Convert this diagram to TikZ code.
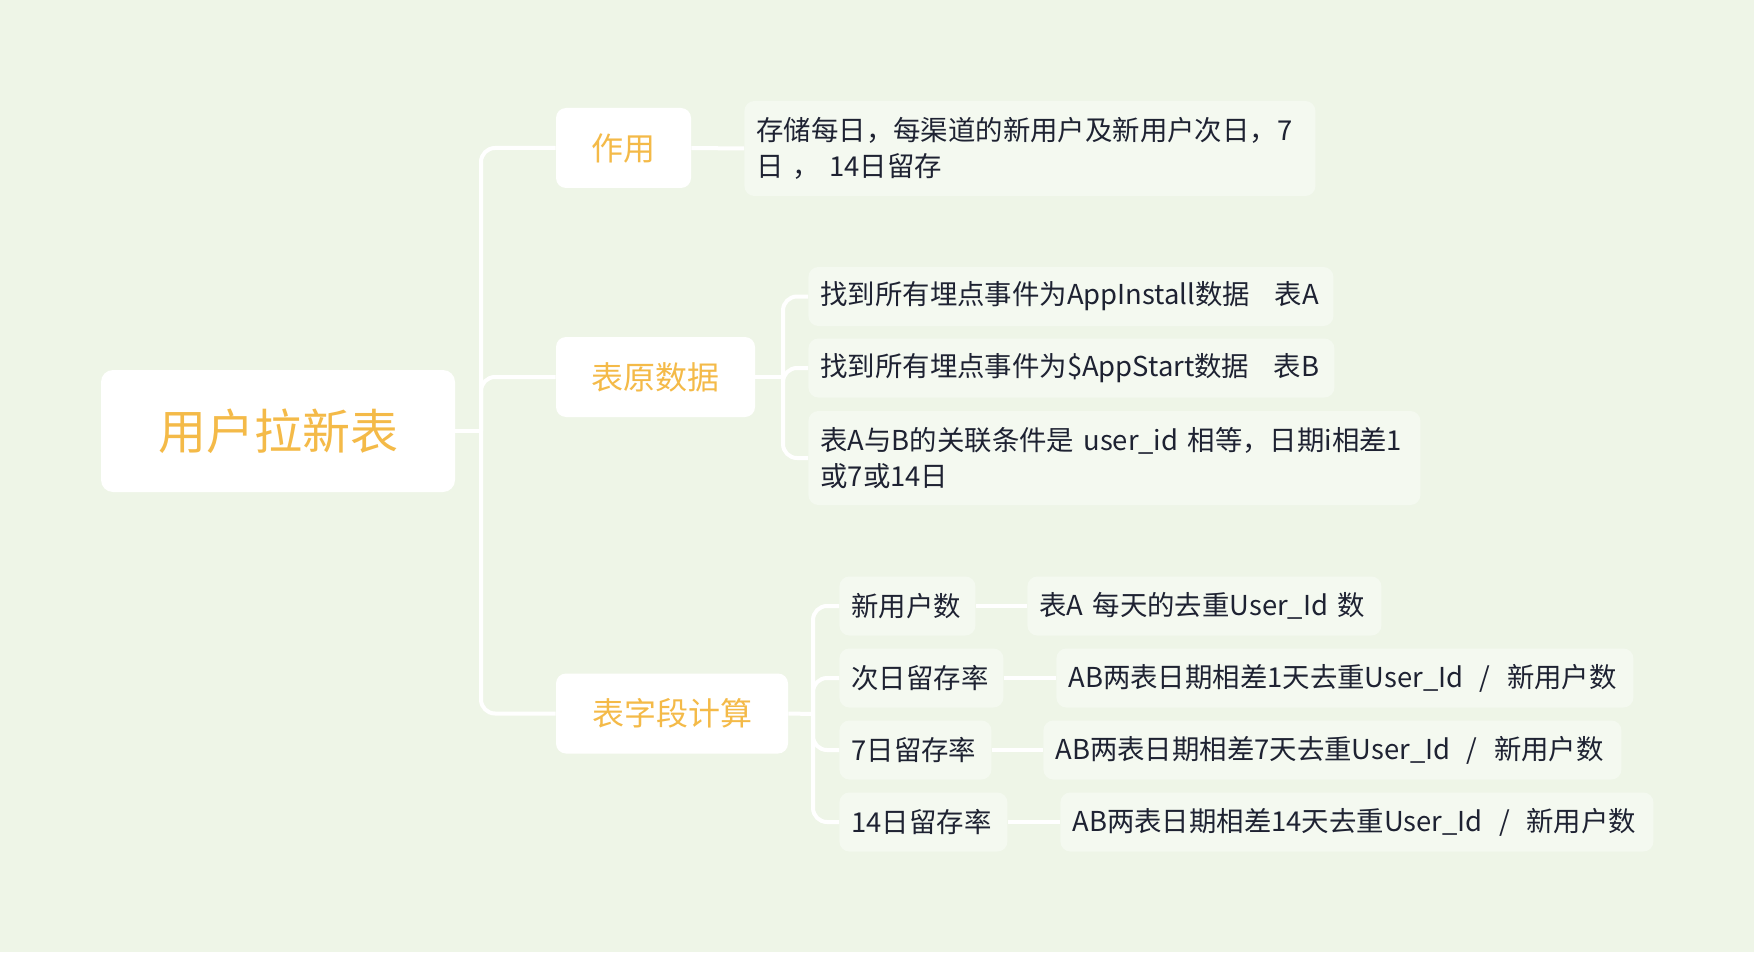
\documentclass[tikz,border=0pt]{standalone}
\usepackage{fontspec}
\setmainfont{Noto Sans CJK SC}
\definecolor{bg}{RGB}{238,245,231}
\definecolor{leafbg}{RGB}{244,249,240}
\definecolor{txt}{RGB}{30,34,50}
\definecolor{orng}{RGB}{244,186,72}
\begin{document}
\begin{tikzpicture}[x=0.5pt,y=-0.5pt,
  rootnode/.style={fill=white, rounded corners=6pt, text=orng, font=\fontsize{24}{28}\selectfont, minimum width=177pt, minimum height=61pt, inner sep=0pt},
  lvlone/.style={fill=white, rounded corners=5pt, text=orng, font=\fontsize{16}{20}\selectfont, minimum height=40pt, inner sep=0pt},
  leaf/.style={fill=leafbg, rounded corners=5pt, text=txt, font=\fontsize{13.7}{18}\selectfont, anchor=west, align=left, inner xsep=6pt, inner ysep=0pt, minimum height=29.5pt},
  conn/.style={draw=white, line width=2pt, rounded corners=7pt}]
\fill[bg] (0,0) rectangle (1754,952);
\useasboundingbox (0,0) rectangle (1754,952);

\node[rootnode] (root) at (278,431) {用户拉新表};
\node[lvlone, minimum width=67.5pt] (zy) at (623.5,148) {作用};
\node[lvlone, minimum width=99.5pt] (ysj) at (655.5,377) {表原数据};
\node[lvlone, minimum width=116pt] (zd) at (672,713.5) {表字段计算};

\node[leaf, text width=273.5pt, minimum height=47.5pt] (cc) at (744,148.5) {存储每日，每渠道的新用户及新用户次日，7\\日 ， 14日留存};

\node[leaf, text width=250.5pt] (a1) at (808,296.5) {找到所有埋点事件为AppInstall数据\hspace{0.9em}表A};
\node[leaf, text width=251pt] (a2) at (808,368) {找到所有埋点事件为\$AppStart数据\hspace{0.9em}表B};
\node[leaf, text width=294pt, minimum height=47pt] (a3) at (808,458) {表A与B的关联条件是 user\_id 相等，日期i相差1\\或7或14日};

\node[leaf, text width=56pt] (b1) at (839,606) {新用户数};
\node[leaf, text width=70pt] (b2) at (839,678) {次日留存率};
\node[leaf, text width=64pt] (b3) at (839,750) {7日留存率};
\node[leaf, text width=72pt] (b4) at (839,822) {14日留存率};

\node[leaf, text width=165pt] (c1) at (1027,606) {表A 每天的去重User\_Id 数};
\node[leaf, text width=276.5pt] (c2) at (1056,678) {AB两表日期相差1天去重User\_Id\hspace{0.6em}/\hspace{0.6em}新用户数};
\node[leaf, text width=277pt] (c3) at (1043,750) {AB两表日期相差7天去重User\_Id\hspace{0.6em}/\hspace{0.6em}新用户数};
\node[leaf, text width=284.5pt] (c4) at (1060,822) {AB两表日期相差14天去重User\_Id\hspace{0.6em}/\hspace{0.6em}新用户数};

\coordinate (t0) at (481,431);
\coordinate (t1) at (783,377);
\coordinate (t2) at (813,714);

\draw[conn] (root.east) -- (t0);
\draw[conn] (t0) |- (zy.west);
\draw[conn] (t0) |- (ysj.west);
\draw[conn] (t0) |- (zd.west);

\draw[conn] (zy.east) -- (cc.west);

\draw[conn] (ysj.east) -- (t1);
\draw[conn] (t1) |- (a1.west);
\draw[conn] (t1) |- (a2.west);
\draw[conn] (t1) |- (a3.west);

\draw[conn] (zd.east) -- (t2);
\draw[conn] (t2) |- (b1.west);
\draw[conn] (t2) |- (b2.west);
\draw[conn] (t2) |- (b3.west);
\draw[conn] (t2) |- (b4.west);

\draw[conn] (b1.east) -- (c1.west);
\draw[conn] (b2.east) -- (c2.west);
\draw[conn] (b3.east) -- (c3.west);
\draw[conn] (b4.east) -- (c4.west);
\end{tikzpicture}
\end{document}
